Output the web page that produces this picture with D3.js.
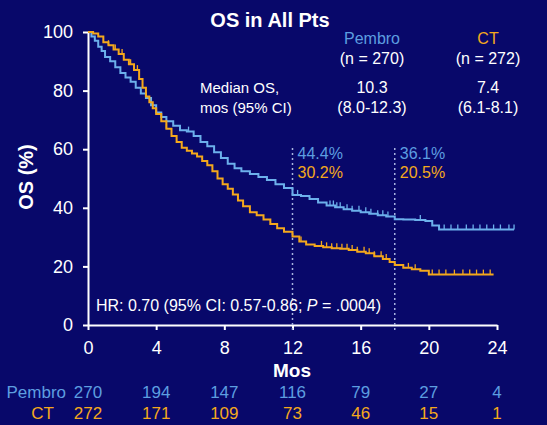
<!DOCTYPE html>
<html>
<head>
<meta charset="utf-8">
<script src="https://cdn.jsdelivr.net/npm/d3@7"></script>
<style>
  body { margin: 0; background: #08086a; }
  svg { display: block; font-family: "Liberation Sans", Arial, sans-serif; }
</style>
</head>
<body>
<svg id="svg" width="547" height="425"></svg>
<script>
// KM step points (months, % alive)
var pembroTime = [0, 0.2, 0.4, 0.6, 0.8, 1.0, 1.3, 1.6, 1.9, 2.2, 2.5, 2.8, 3.1, 3.4, 3.7, 4.0, 4.3, 4.6, 5.0, 5.4, 5.8, 6.2, 6.6, 7.0, 7.4, 7.8, 8.2, 8.6, 9.0, 9.5, 10.0, 10.5, 11.0, 11.5, 12.0, 12.5, 13.0, 13.5, 14.0, 14.5, 15.0, 15.5, 16.0, 16.5, 17.0, 17.5, 18.0, 18.5, 19.2, 19.8, 20.2, 20.6, 25.0];
var pembroOS   = [100, 98.5, 97, 95, 93.5, 91.5, 90, 88, 86, 84.5, 83, 81, 79, 77.5, 75, 72.5, 71, 69.5, 68, 66.5, 66, 64.5, 62.5, 61, 59, 57, 55, 53.5, 52.5, 51.5, 50.5, 49.5, 48, 46.8, 44.4, 44, 43, 41.8, 40.8, 40.2, 39.5, 39, 38.5, 38, 37.5, 37, 36.1, 36, 35.8, 35.5, 34, 32.6, 32.6];
var ctTime = [0, 0.3, 0.6, 0.9, 1.2, 1.5, 1.8, 2.1, 2.4, 2.7, 3.0, 3.2, 3.4, 3.6, 3.8, 4.0, 4.3, 4.6, 4.9, 5.2, 5.5, 5.8, 6.1, 6.4, 6.7, 7.0, 7.3, 7.6, 7.9, 8.2, 8.5, 8.8, 9.1, 9.5, 9.9, 10.3, 10.7, 11.1, 11.5, 12.0, 12.4, 12.8, 13.3, 13.8, 14.3, 14.8, 15.3, 15.8, 16.3, 16.8, 17.3, 17.7, 18.0, 18.5, 19.0, 19.5, 20.0, 23.8];
var ctOS   = [100, 99.5, 98.5, 96.5, 95.5, 94, 92.5, 90.5, 89, 87, 84, 81, 78, 76, 74, 72, 69.5, 67, 64.5, 62.5, 60.5, 59.5, 58.5, 57.5, 56, 54.5, 52.5, 50, 48, 46.5, 44.5, 42.5, 40.5, 38.5, 37.5, 36, 34.5, 33, 31.8, 30.2, 28.5, 27.5, 27, 26.5, 26.2, 26, 25.6, 25, 24.5, 23.5, 22.5, 21.5, 20.5, 19.5, 19, 18.5, 17.2, 17.2];

// censor ticks
var pembroCensor = [5.9, 12.3, 14.2, 14.4, 14.6, 14.8, 15.2, 15.5, 15.9, 16.3, 16.6, 17.0, 17.3, 17.6, 19.5, 20.9, 21.3, 21.7, 22.2, 22.6, 23.0, 23.4, 23.8, 24.2, 24.7, 25.0];
var ctCensor = [1.2, 1.6, 2.0, 2.5, 2.9, 4.6, 12.5, 13.7, 14.0, 14.3, 14.6, 14.9, 15.2, 15.5, 15.8, 16.2, 16.5, 16.8, 17.2, 17.5, 18.8, 19.2, 20.2, 20.6, 21.0, 21.5, 22.0, 22.4, 22.8, 23.2, 23.6];

var xTicks = [0, 4, 8, 12, 16, 20, 24];
var yTicks = [0, 20, 40, 60, 80, 100];
var pembroAtRisk = [270, 194, 147, 116, 79, 27, 4];
var ctAtRisk = [272, 171, 109, 73, 46, 15, 1];
var landmarks = [12, 18];
var pembroLandmark = ["44.4%", "36.1%"];
var ctLandmark = ["30.2%", "20.5%"];

var blue = "#6cb0ec";
var orange = "#f4a81c";
var blueText = "#5d9ee0";

var svg = d3.select("#svg");
var x = d3.scaleLinear().domain([0, 24]).range([88, 497]);
var y = d3.scaleLinear().domain([0, 100]).range([325, 32]);

//axes
var xAxis = svg.append("g")
    .attr("transform", "translate(0,325)")
    .call(d3.axisBottom(x).tickValues(xTicks).tickSize(5).tickSizeOuter(0).tickPadding(11));
var yAxis = svg.append("g")
    .attr("transform", "translate(88,0)")
    .call(d3.axisLeft(y).tickValues(yTicks).tickSize(5).tickSizeOuter(0).tickPadding(10));
[xAxis, yAxis].forEach(function(a) {
    a.select(".domain").attr("stroke", "#fff").attr("stroke-width", 2);
    a.selectAll(".tick line").attr("stroke", "#fff").attr("stroke-width", 2);
    a.selectAll(".tick text").attr("fill", "#fff").style("font-size", "18px")
        .style("font-family", "Liberation Sans, Arial, sans-serif");
});

//landmark lines
svg.selectAll(".lm").data(landmarks).enter().append("line")
    .attr("x1", function(d){ return x(d); }).attr("x2", function(d){ return x(d); })
    .attr("y1", 148).attr("y2", 330)
    .attr("stroke", "#a8b4e0").attr("stroke-width", 1.5).attr("stroke-dasharray", "2,3");

//curves
var line = d3.line().curve(d3.curveStepAfter)
    .x(function(d){ return x(d[0]); }).y(function(d){ return y(d[1]); });
function drawArm(times, vals, censor, color) {
    var pts = times.map(function(t, i){ return [t, vals[i]]; });
    svg.append("path").datum(pts).attr("d", line)
        .attr("fill", "none").attr("stroke", color).attr("stroke-width", 2);
    var bis = d3.bisector(function(d){ return d[0]; }).right;
    svg.selectAll(null).data(censor).enter().append("line")
        .attr("x1", function(d){ return x(d); }).attr("x2", function(d){ return x(d); })
        .attr("y1", function(d){ return y(pts[Math.max(0, bis(pts, d) - 1)][1]); })
        .attr("y2", function(d){ return y(pts[Math.max(0, bis(pts, d) - 1)][1]) - 5; })
        .attr("stroke", color).attr("stroke-width", 1.3);
}
drawArm(pembroTime, pembroOS, pembroCensor, blue);
drawArm(ctTime, ctOS, ctCensor, orange);

function txt(s, tx, ty, size, fill, anchor, weight) {
    return svg.append("text").attr("x", tx).attr("y", ty).text(s)
        .attr("fill", fill).attr("text-anchor", anchor || "start")
        .style("font-size", size + "px").style("font-weight", weight || "normal");
}

//title & header table
txt("OS in All Pts", 270, 27, 20, "#fff", "middle", "bold");
txt("Pembro", 372, 44, 16, blueText, "middle");
txt("(n = 270)", 372, 64, 16, "#fff", "middle");
txt("CT", 488, 44, 16, orange, "middle");
txt("(n = 272)", 488, 64, 16, "#fff", "middle");
txt("Median OS,", 200, 93, 15, "#fff");
txt("mos (95% CI)", 200, 113, 15, "#fff");
txt("10.3", 372, 93, 16, "#fff", "middle");
txt("(8.0-12.3)", 372, 113, 16, "#fff", "middle");
txt("7.4", 488, 93, 16, "#fff", "middle");
txt("(6.1-8.1)", 488, 113, 16, "#fff", "middle");

//landmark labels
landmarks.forEach(function(m, i) {
    txt(pembroLandmark[i], x(m) + 5, 159, 16, blueText);
    txt(ctLandmark[i], x(m) + 5, 178, 16, orange);
});

//HR
var hr = txt("HR: 0.70 (95% CI: 0.57-0.86; ", 96, 311, 16, "#fff");
hr.append("tspan").text("P").style("font-style", "italic");
hr.append("tspan").text(" = .0004)");

//axis titles
txt("Mos", 292, 377, 19, "#fff", "middle", "bold");
txt("OS (%)", 0, 0, 20, "#fff", "middle", "bold")
    .attr("transform", "translate(33,177) rotate(-90)");

//at risk
txt("Pembro", 66, 398, 17, blueText, "end");
txt("CT", 54, 419, 17, orange, "end");
svg.selectAll(".rp").data(pembroAtRisk).enter().append("text")
    .attr("x", function(d, i){ return x(xTicks[i]); }).attr("y", 398)
    .attr("text-anchor", "middle").attr("fill", blueText).style("font-size", "17px")
    .text(function(d){ return d; });
svg.selectAll(".rc").data(ctAtRisk).enter().append("text")
    .attr("x", function(d, i){ return x(xTicks[i]); }).attr("y", 419)
    .attr("text-anchor", "middle").attr("fill", orange).style("font-size", "17px")
    .text(function(d){ return d; });
</script>
</body>
</html>
